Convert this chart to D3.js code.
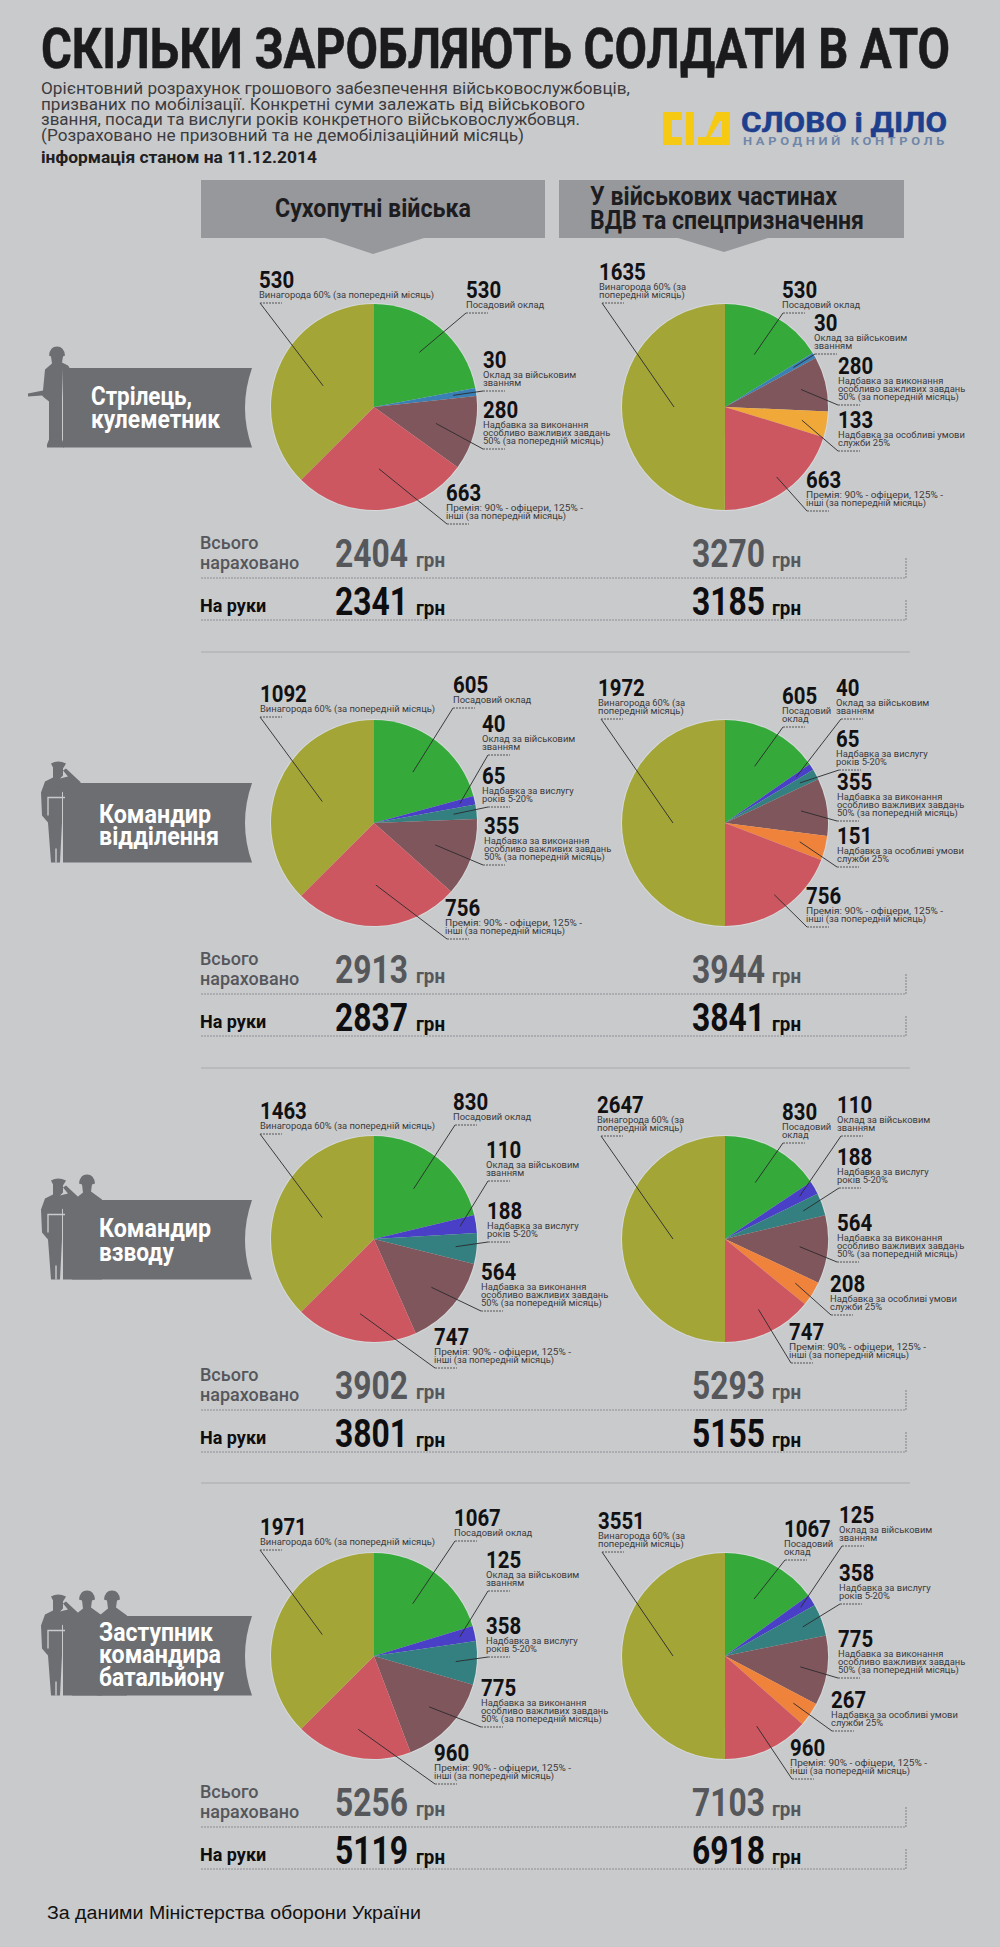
<!DOCTYPE html>
<html>
<head>
<meta charset="utf-8">
<style>
  html, body { margin: 0; padding: 0; background: #c9cacc; }
  svg { display: block; }
  .narrow { font-family: "Liberation Sans Narrow", "Roboto", sans-serif; font-weight: 700; }
  .desc { font-family: "Roboto", sans-serif; font-size: 9.4px; fill: #3a3a3c; }
</style>
<script src="https://cdn.jsdelivr.net/npm/d3@7"></script>
</head>
<body>
<svg id="chart" width="1000" height="1947"></svg>
<script>
// order of slices, clockwise from the top of each pie
var components = ['pay', 'rank', 'service', 'duty', 'special', 'bonus', 'reward'];

var ranks = [['Стрілець,', 'кулеметник'], ['Командир', 'відділення'], ['Командир', 'взводу'], ['Заступник', 'командира', 'батальйону']];
var columns = ['Сухопутні війська', 'У військових частинах|ВДВ та спецпризначення'];

// zero means the slice is not in that pie
var landRifleman = [530, 30, 0, 280, 0, 663, 901];   // slice size, see printedOverride
var landSquad = [605, 40, 65, 355, 0, 756, 1092];
var landPlatoon = [830, 110, 188, 564, 0, 747, 1463];
var landDeputy = [1067, 125, 358, 775, 0, 960, 1971];
var airRifleman = [530, 30, 0, 280, 133, 663, 1635];
var airSquad = [605, 40, 65, 355, 151, 756, 1972];
var airPlatoon = [830, 110, 188, 564, 208, 747, 2647];
var airDeputy = [1067, 125, 358, 775, 267, 960, 3551];

var accruedLand = [2404, 2913, 3902, 5256];
var accruedAir = [3270, 3944, 5293, 7103];
var netLand = [2341, 2837, 3801, 5119];
var netAir = [3185, 3841, 5155, 6918];

// the original prints 530 on the first olive slice, though it is drawn as 901
var printedOverride = { '0-0-reward': 530 };

var introLines = [
  ['Орієнтовний розрахунок грошового забезпечення військовослужбовців,', 589],
  ['призваних по мобілізації. Конкретні суми залежать від військового', 544],
  ['звання, посади та вислуги років конкретного військовослужбовця.', 539],
  ['(Розраховано не призовний та не демобілізаційний місяць)', 483]
];

var descs = {
  pay: ['Посадовий оклад'],
  rank: ['Оклад за військовим', 'званням'],
  service: ['Надбавка за вислугу', 'років 5-20%'],
  duty: ['Надбавка за виконання', 'особливо важливих завдань', '50% (за попередній місяць)'],
  special: ['Надбавка за особливі умови', 'служби 25%'],
  bonus: ['Премія: 90% - офіцери, 125% -', 'інші (за попередній місяць)'],
  reward: ['Винагорода 60% (за попередній місяць)']
};
var descsAirReward = ['Винагорода 60% (за', 'попередній місяць)'];
var descsAirPay = ['Посадовий', 'оклад'];
var bonusWidths = [137, 120];

var colors = { pay: '#35a93a', rank: '#4a40c8', service: '#347f80', duty: '#7f565b', special: '#f0833c', bonus: '#cd5760', reward: '#a3a537' };
var rowOneColors = { rank: '#3a80b4', special: '#f0a838' };

// layout: pie rows, columns
var rowY = [407, 823, 1239, 1656];
var colX = [374, 725];
var radius = 103;
var labelColor = '#1a1a1c', greyText = '#55575b', ribbonColor = '#6d6e72', bg = '#c9cacc';

// leader layout for every visible slice: [radius of inner end, underline x, underline y, text shift]
var leaders = [
  [
    [[71, 92, -94, 0], [80, 109, -16, 0], [64, 109, 42, 0], [62, 73, 117, -1], [55, -114, -104, -1]],
    [[60, 58, -94, -1], [79, 90, -53, -1], [78, 113, -2, 0], [78, 113, 44, 0], [87, 82, 104, -1], [51, -123, -104, -3]]
  ],
  [
    [[64, 79, -115, 0], [88, 114, -68, -6], [80, 114, -16, -6], [65, 109, 42, 1], [62, 73, 116, -2], [56, -114, -106, 0]],
    [[64, 58, -96, -1], [85, 116, -104, -5], [85, 114, -53, -3], [77, 112, -2, 0], [77, 112, 44, 0], [87, 82, 104, -1], [52, -124, -104, -3]]
  ],
  [
    [[64, 81, -114, -2], [87, 114, -58, -2], [82, 114, 3, -1], [75, 107, 72, 0], [76, 61, 129, -1], [56, -114, -105, 0]],
    [[64, 58, -96, -1], [86, 116, -103, -4], [83, 114, -51, -2], [75, 112, 23, 0], [83, 106, 76, -1], [78, 66, 124, -2], [52, -124, -103, -4]]
  ],
  [
    [[65, 81, -115, -1], [88, 114, -65, -2], [82, 114, 1, -2], [75, 107, 71, 0], [75, 61, 128, -1], [56, -114, -106, 0]],
    [[64, 60, -96, -1], [90, 117, -110, -3], [83, 115, -52, -1], [76, 113, 22, 0], [83, 107, 75, -1], [77, 67, 123, -2], [52, -123, -104, -4]]
  ]
];

var svg = d3.select('#chart');
svg.append('rect').attr('width', 1000).attr('height', 1947).attr('fill', bg);

function fitText(parent, str, x, y, width, size, cls, fill) {
  return parent.append('text')
      .attr('class', cls)
      .attr('x', x)
      .attr('y', y)
      .attr('font-size', size)
      .attr('fill', fill)
      .attr('textLength', width)
      .attr('lengthAdjust', 'spacingAndGlyphs')
      .text(str);
}

// header
fitText(svg, 'СКІЛЬКИ ЗАРОБЛЯЮТЬ СОЛДАТИ В АТО', 41, 68, 909, 56, 'narrow', '#1b1b1d')
    .attr('stroke', '#1b1b1d').attr('stroke-width', 0.6);
introLines.forEach(function(line, i) {
  fitText(svg, line[0], 41, [94, 110, 125, 141][i], line[1], 16.5, '', '#3c3c3e')
      .style('font-family', 'Roboto, sans-serif');
});
fitText(svg, 'інформація станом на 11.12.2014', 41, 163, 276, 16.5, '', '#202022')
    .style('font-family', 'Roboto, sans-serif').style('font-weight', 700);

// logo
var logo = svg.append('g');
logo.append('path').attr('fill', '#f6c913')
    .attr('d', 'M663,112H682V120H672V137H682V145H663Z M686,112H694V145H686Z M716,112H730V145H698V137H706Z M720,121L710,137H722V121Z');
fitText(logo, 'СЛОВО і ДІЛО', 741, 132, 206, 27, 'narrow', '#1d3f8e')
    .attr('stroke', '#1d3f8e').attr('stroke-width', 0.5);
fitText(logo, 'НАРОДНИЙ КОНТРОЛЬ', 743, 145, 205, 10.5, '', '#6f87a8')
    .style('font-family', 'Roboto, sans-serif').style('font-weight', 700).style('letter-spacing', '3px');

// column headers
var headerBoxes = [[201, 545, 325, 424, 373, 254], [559, 904, 678, 768, 724, 252]];
headerBoxes.forEach(function(b) {
  svg.append('path').attr('fill', '#97989c')
      .attr('d', 'M' + b[0] + ',180H' + b[1] + 'V238H' + b[3] + 'L' + b[4] + ',' + b[5] + 'L' + b[2] + ',238H' + b[0] + 'Z');
});
fitText(svg, columns[0], 275, 217, 196, 26, 'narrow', '#1d1d1f');
fitText(svg, columns[1].split('|')[0], 590, 205, 247, 26, 'narrow', '#1d1d1f');
fitText(svg, columns[1].split('|')[1], 590, 229, 274, 26, 'narrow', '#1d1d1f');

// silhouettes, drawn from the ribbon bottom upwards
function soldier(g) {
  g.append('path').attr('d', 'M49,-92Q50,-101 57,-101Q64,-101 65,-92L63,-91L62,-85L68,-82L70,-79H63L62,-50L62,-8L64,-3V0H47V-3L49,-8L49,-46L44,-50L42,-52L28,-51L28,-54L43,-57L45,-78L52,-84L51,-91Z');
}
function officer(g) {
  g.append('path').attr('d', 'M51,-99Q58,-103 66,-99L63,-94V-87L60,-84L68,-86L63,-92L66,-94L81,-80L68,-76L62,-70V-40L60,0H51L48,-40L42,-47L41,-70L45,-81L53,-85V-95Z');
  g.append('path').attr('fill', 'none').attr('stroke', bg).attr('stroke-width', 1.4)
      .attr('d', 'M65,-65H48V-47 M56,-14V0');
}
function backSoldier(g, x) {
  g.append('path').attr('d', 'M' + (x - 8) + ',-96Q' + (x - 7) + ',-105 ' + x + ',-105Q' + (x + 7) + ',-105 ' + (x + 8) + ',-96L'
      + (x + 5) + ',-95L' + (x + 4) + ',-88L' + (x + 15) + ',-80V0H' + (x - 15) + 'V-78L' + (x - 4) + ',-87L' + (x - 5) + ',-95Z');
}

var ribbonTops = [368, 783, 1200, 1616];
var rankLabelY = [[405, 428], [823, 845], [1237, 1261], [1641, 1663, 1686]];
var rankLabelX = [91, 99, 99, 99];
var rankLabelW = [[101, 129], [112, 120], [112, 75], [114, 122, 125]];

ranks.forEach(function(rank, r) {
  var top = ribbonTops[r], bottom = top + 79.5;
  var fig = svg.append('g').attr('fill', ribbonColor);
  fig.append('path')
      .attr('d', 'M63,' + top + 'H252Q238,' + (top + 40) + ' 252,' + bottom + 'H63Z');
  var g = fig.append('g').attr('transform', 'translate(0,' + bottom + ')');
  if (r === 0) soldier(g);
  if (r >= 2) backSoldier(g, 87);
  if (r === 3) backSoldier(g, 112);
  if (r >= 1) officer(g);
  rank.forEach(function(line, i) {
    fitText(svg, line, rankLabelX[r], rankLabelY[r][i], rankLabelW[r][i], 25, 'narrow', '#ffffff');
  });
});

// pies
var pie = d3.pie().sort(null).value(function(d) { return d.value; });
var arc = d3.arc().innerRadius(0).outerRadius(radius);

var rowData = [
  [landRifleman, airRifleman],
  [landSquad, airSquad],
  [landPlatoon, airPlatoon],
  [landDeputy, airDeputy]
];
var accrued = [accruedLand, accruedAir];
var net = [netLand, netAir];

rowData.forEach(function(pair, r) {
  pair.forEach(function(values, c) {
    var items = components.map(function(key, i) { return { key: key, value: values[i] }; })
        .filter(function(d) { return d.value > 0; });
    var g = svg.append('g').attr('transform', 'translate(' + colX[c] + ',' + rowY[r] + ')');

    g.append('circle').attr('r', radius + 1).attr('fill', '#d6dadb');
    g.selectAll('path.slice')
        .data(pie(items))
      .enter().append('path')
        .attr('class', 'slice')
        .attr('d', arc)
        .attr('fill', function(d) {
          return (r === 0 && rowOneColors[d.data.key]) || colors[d.data.key];
        });

    pie(items).forEach(function(d, i) {
      var lay = leaders[r][c][i];
      var mid = (d.startAngle + d.endAngle) / 2;
      var ix = Math.sin(mid) * lay[0], iy = -Math.cos(mid) * lay[0];
      var ax = lay[1], ay = lay[2];
      var tx = ax + lay[3];

      g.append('line')
          .attr('x1', ix).attr('y1', iy).attr('x2', ax).attr('y2', ay)
          .attr('stroke', '#2a2a2c').attr('stroke-width', 0.9);
      g.append('line')
          .attr('x1', ax).attr('y1', ay).attr('x2', ax + 22).attr('y2', ay)
          .attr('stroke', '#555').attr('stroke-width', 1).attr('stroke-dasharray', '2 1');

      var lines = descs[d.data.key];
      if (c === 1 && d.data.key === 'reward') lines = descsAirReward;
      if (c === 1 && r > 0 && d.data.key === 'pay') lines = descsAirPay;
      var n = lines.length;
      lines.forEach(function(line, j) {
        var t = g.append('text').attr('class', 'desc')
            .attr('x', tx)
            .attr('y', ay - 5 - (n - 1 - j) * 8)
            .text(line);
        if (d.data.key === 'bonus') {
          t.attr('textLength', bonusWidths[j]).attr('lengthAdjust', 'spacingAndGlyphs');
        }
      });
      var printed = printedOverride[r + '-' + c + '-' + d.data.key] || d.data.value;
      var digits = String(printed).length;
      fitText(g, printed, tx, ay - 8 * n - 7, digits * 11.7, 24.5, 'narrow', '#111113');
    });
  });

  // totals
  var y = rowY[r];
  var sum = svg.append('g');
  sum.append('text').attr('x', 200).attr('y', y + 142).attr('fill', greyText)
      .style('font', '500 18px Roboto, sans-serif').text('Всього');
  sum.append('text').attr('x', 200).attr('y', y + 162).attr('fill', greyText)
      .style('font', '500 18px Roboto, sans-serif').text('нараховано');
  sum.append('text').attr('x', 200).attr('y', y + 205).attr('fill', '#0e0e10')
      .style('font', '700 18px Roboto, sans-serif').text('На руки');

  var valueX = [335, 692], unitX = [416, 772];
  [0, 1].forEach(function(c) {
    fitText(sum, accrued[c][r], valueX[c], y + 160, 73, 38, 'narrow', greyText);
    fitText(sum, net[c][r], valueX[c], y + 208, 73, 38, 'narrow', '#0e0e10');
    fitText(sum, 'грн', unitX[c], y + 160, 29, 20, 'narrow', greyText);
    fitText(sum, 'грн', unitX[c], y + 208, 29, 20, 'narrow', '#0e0e10');
  });

  sum.append('path').attr('fill', 'none').attr('stroke', '#8d8e91').attr('stroke-width', 1.2)
      .attr('stroke-dasharray', '2 1')
      .attr('d', 'M201,' + (y + 171) + 'H906V' + (y + 150) + ' M201,' + (y + 213) + 'H906V' + (y + 193));

  if (r < 3) {
    sum.append('line').attr('x1', 201).attr('x2', 910)
        .attr('y1', [652, 1068, 1483][r]).attr('y2', [652, 1068, 1483][r])
        .attr('stroke', '#a9aaad').attr('stroke-width', 1);
  }
});

// source
fitText(svg, 'За даними Міністерства оборони України', 47, 1919, 374, 18, '', '#111')
    .style('font-family', '"Liberation Sans", sans-serif');
</script>
</body>
</html>
